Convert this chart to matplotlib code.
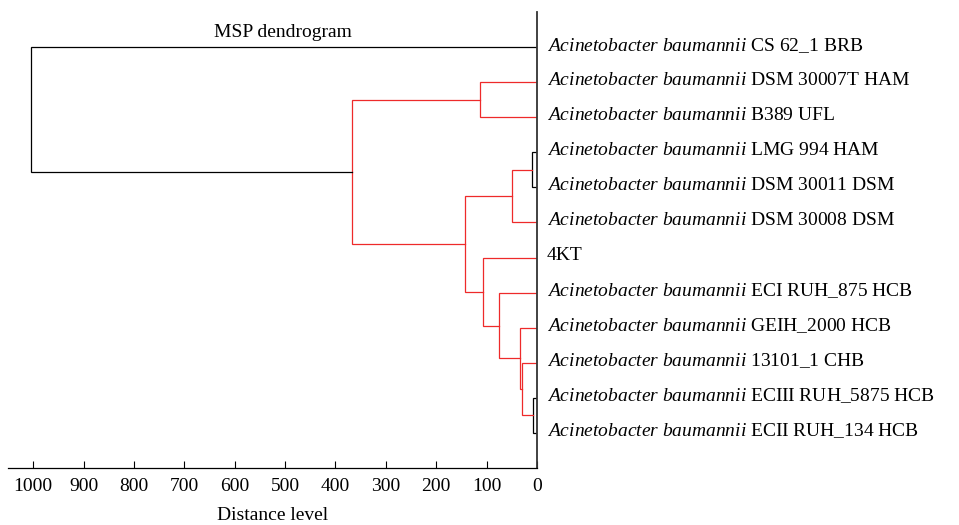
import matplotlib
matplotlib.use("Agg")
import matplotlib.pyplot as plt

# --- datos: hojas (de arriba a abajo) y fusiones del dendrograma ---
species = r"$\mathit{Acinetobacter\ baumannii}$"
leaf_names = [
    "CS 62_1 BRB",
    "DSM 30007T HAM",
    "B389 UFL",
    "LMG 994 HAM",
    "DSM 30011 DSM",
    "DSM 30008 DSM",
    "4KT",
    "ECI RUH_875 HCB",
    "GEIH_2000 HCB",
    "13101_1 CHB",
    "ECIII RUH_5875 HCB",
    "ECII RUH_134 HCB",
]
has_species = [True] * 6 + [False] + [True] * 5

# fusiones tipo linkage: (hijo_a, hijo_b, distancia); ids >= 12 son clusters previos
merge_a = [3, 10, 9, 8, 7, 6, 12, 18, 1, 20, 0]
merge_b = [4, 11, 13, 14, 15, 16, 5, 17, 2, 19, 21]
merge_dist = [10, 8, 30, 34, 75, 107, 50, 143, 113, 367, 1004]

xticks = [1000, 900, 800, 700, 600, 500, 400, 300, 200, 100, 0]

plt.rcParams['font.family'] = ['Liberation Serif', 'DejaVu Serif']
plt.rcParams['mathtext.fontset'] = 'custom'
plt.rcParams['mathtext.rm'] = 'Liberation Serif'
plt.rcParams['mathtext.it'] = 'Liberation Serif:italic'

RED = '#ee2a2a'
FS = 14

fig = plt.figure(figsize=(9.59, 5.25), dpi=100)
ax = fig.add_axes([8 / 959, 57 / 525, 529 / 959, 456 / 525])

n = len(leaf_names)
pos = {i: float(i) for i in range(n)}
height = {i: 0.0 for i in range(n)}

for k, (a, b, d) in enumerate(zip(merge_a, merge_b, merge_dist)):
    node = n + k
    col = RED if 15 < d < 500 else 'black'
    ya, yb = pos[a], pos[b]
    ax.plot([height[a], d, d, height[b]], [ya, ya, yb, yb],
            color=col, lw=0.9, solid_joinstyle='miter')
    pos[node] = (ya + yb) / 2
    height[node] = d

# etiquetas de las hojas
for i, (name, sp) in enumerate(zip(leaf_names, has_species)):
    txt = f"{species} {name}" if sp else name
    ax.text(-19, i - 0.05, txt, ha='left', va='center', fontsize=FS, clip_on=False)

ax.text(504, -0.18, "MSP dendrogram", ha='center', va='bottom', fontsize=FS)

ax.set_xlim(1050, 0)
ax.set_ylim(12, -1)
ax.set_xticks(xticks)
ax.set_xticklabels([str(t) for t in xticks])
ax.set_yticks([])
ax.tick_params(axis='x', direction='in', length=5, width=0.8, pad=7, labelsize=FS)
ax.set_xlabel("Distance level", fontsize=FS, labelpad=9)

for s in ['top', 'left']:
    ax.spines[s].set_visible(False)
ax.spines['bottom'].set_linewidth(0.9)
ax.spines['right'].set_linewidth(1.3)
ax.spines['right'].set_color('#333333')

fig.savefig("out.png", dpi=100)
